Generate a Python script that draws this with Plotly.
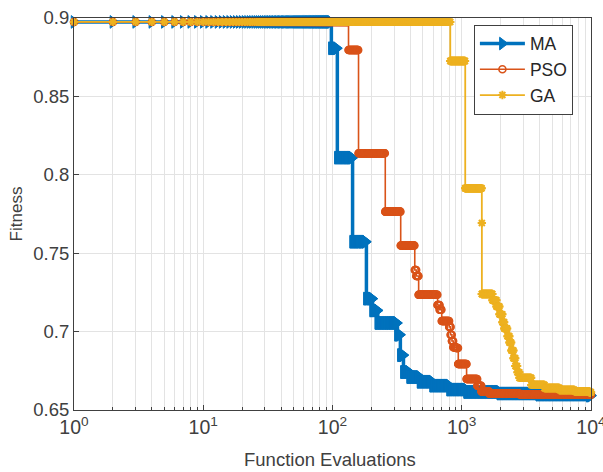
import numpy as np
import plotly.graph_objects as go

# ---- data: step breakpoints (evaluation where best fitness changes, new fitness) ----
ma_evals = [1, 98, 109, 143, 183, 204, 224, 318, 335, 354, 395, 475, 595, 805, 1090, 1970, 3950, 9700]
ma_fit   = [0.8975, 0.8807, 0.8109, 0.7573, 0.7210, 0.7135, 0.7055, 0.6980, 0.6850, 0.6742,
            0.6710, 0.6680, 0.6655, 0.6630, 0.6615, 0.6605, 0.6598, 0.6592]

pso_evals = [1, 133, 159, 256, 337, 433, 445, 464, 650, 675, 700, 800, 820, 840, 860, 905,
             940, 1090, 1320, 1420, 1630, 2800, 9700]
pso_fit   = [0.8975, 0.8796, 0.8137, 0.7765, 0.7549, 0.7393, 0.7355, 0.7235, 0.7170, 0.7140,
             0.7068, 0.7030, 0.6980, 0.6940, 0.6900, 0.6895, 0.6793, 0.6698, 0.6655, 0.6618,
             0.6605, 0.6600, 0.6597]

ga_evals = [1, 815, 1064, 1430, 1431, 1730, 1858, 1960, 2067, 2141, 2259, 2340, 2427, 2514,
            2605, 2698, 2796, 3462, 4364, 5700, 7447, 9723]
ga_fit   = [0.8975, 0.8726, 0.7914, 0.7693, 0.7240, 0.7200, 0.7160, 0.7110, 0.7060, 0.7020,
            0.6970, 0.6930, 0.6880, 0.6830, 0.6780, 0.6740, 0.6705, 0.6660, 0.6640, 0.6628,
            0.6620, 0.6613]

max_evals = 10000
x_ticks = [1, 10, 100, 1000, 10000]
x_ticktext = ["10<sup>0</sup>", "10<sup>1</sup>", "10<sup>2</sup>", "10<sup>3</sup>", "10<sup>4</sup>"]
y_ticks = [0.65, 0.7, 0.75, 0.8, 0.85, 0.9]
y_ticktext = ["0.65", "0.7", "0.75", "0.8", "0.85", "0.9"]

# evaluation grid on which each best-so-far curve is recorded (one marker per recorded evaluation)
base_grid = np.unique(np.round(np.logspace(0, np.log10(max_evals), 1400)).astype(int))


def expand(evals, fit):
    grid = np.unique(np.concatenate([base_grid, np.array(evals, dtype=int)]))
    idx = np.searchsorted(np.array(evals), grid, side="right") - 1
    return grid, np.array(fit)[idx]


fig = go.Figure()

gx, gy = expand(ma_evals, ma_fit)
fig.add_trace(go.Scatter(x=gx, y=gy, name="MA", mode="lines+markers", line_shape="hv",
                         line=dict(color="#0072BD", width=3.5),
                         marker=dict(symbol="triangle-right", size=11, color="#0072BD",
                                     line=dict(color="#0072BD", width=1)),
                         cliponaxis=False))

gx, gy = expand(pso_evals, pso_fit)
fig.add_trace(go.Scatter(x=gx, y=gy, name="PSO", mode="lines+markers", line_shape="hv",
                         line=dict(color="#D95319", width=1.6),
                         marker=dict(symbol="circle-open", size=7, color="#D95319",
                                     line=dict(color="#D95319", width=1.6)),
                         cliponaxis=False))

gx, gy = expand(ga_evals, ga_fit)
fig.add_trace(go.Scatter(x=gx, y=gy, name="GA", mode="lines+markers", line_shape="hv",
                         line=dict(color="#EDB120", width=1.8),
                         marker=dict(symbol="asterisk-open", size=7, color="#EDB120",
                                     line=dict(color="#EDB120", width=2)),
                         cliponaxis=False))

font_family = "Liberation Sans, Arial, Helvetica, sans-serif"

fig.update_layout(
    width=603, height=472,
    margin=dict(l=74, r=12, t=18, b=62),
    paper_bgcolor="white", plot_bgcolor="white",
    font=dict(family=font_family, size=18, color="#262626"),
    legend=dict(x=0.965, y=0.983, xanchor="right", yanchor="top",
                bgcolor="white", bordercolor="#404040", borderwidth=1,
                font=dict(size=17.5, color="#262626"), itemwidth=45,
                tracegroupgap=0),
    showlegend=True,
    annotations=[dict(text="Function Evaluations", xref="paper", yref="paper",
                      x=0.495, y=-0.127, xanchor="center", yanchor="middle",
                      showarrow=False, font=dict(size=18.5, color="#404040"))],
)

fig.update_xaxes(
    type="log", range=[0, 4],
    tickvals=x_ticks, ticktext=x_ticktext,
    ticklabeloverflow="allow",
    automargin=False,
    showgrid=True, gridcolor="#e3e3e3", gridwidth=1,
    minor=dict(dtick="D1", showgrid=True, gridcolor="#e3e3e3", ticks="inside",
               ticklen=3, tickcolor="#404040"),
    ticks="inside", ticklen=5, tickcolor="#404040",
    showline=True, mirror=True, linecolor="#404040", linewidth=1,
    zeroline=False,
    tickfont=dict(size=19.5, color="#404040"),
)
fig.update_yaxes(
    range=[0.65, 0.9],
    tickvals=y_ticks, ticktext=y_ticktext,
    automargin=False,
    showgrid=True, gridcolor="#e3e3e3", gridwidth=1,
    ticks="inside", ticklen=5, tickcolor="#404040",
    showline=True, mirror=True, linecolor="#404040", linewidth=1,
    zeroline=False,
    tickfont=dict(size=18.5, color="#404040"),
    title=dict(text="Fitness", font=dict(size=17, color="#404040"), standoff=6),
)

fig.write_html("out.html")
